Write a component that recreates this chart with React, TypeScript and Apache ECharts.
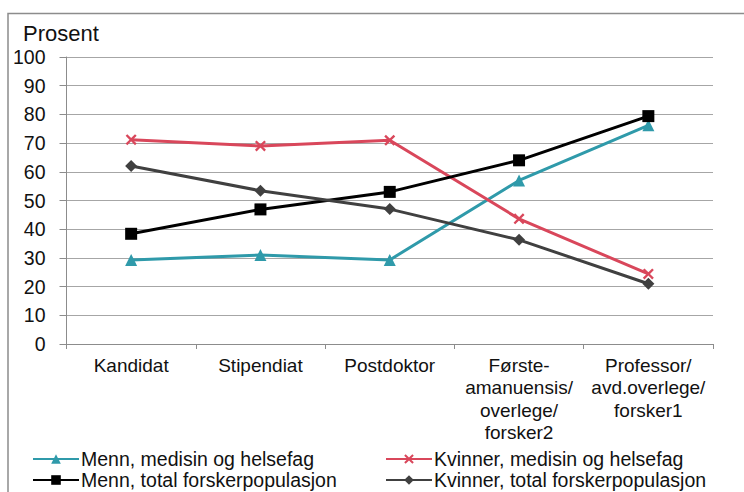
import React, { useEffect, useRef } from "react";
import * as echarts from "echarts";

const categories = [
  "Kandidat",
  "Stipendiat",
  "Postdoktor",
  "Første-\namanuensis/\noverlege/\nforsker2",
  "Professor/\navd.overlege/\nforsker1",
];
const mennMedisin = [29.3, 31, 29.3, 57, 76.2];
const kvinnerMedisin = [71.2, 69, 71, 43.6, 24.4];
const mennTotal = [38.4, 46.9, 53, 64, 79.4];
const kvinnerTotal = [62, 53.4, 47, 36.3, 21];
const yTicks = { min: 0, max: 100, interval: 10 };

const FONT = "Liberation Sans, Arial, sans-serif";
const xSymbol =
  "path://M0,1.5L1.5,0L5,3.5L8.5,0L10,1.5L6.5,5L10,8.5L8.5,10L5,6.5L1.5,10L0,8.5L3.5,5Z";

export default function App() {
  const ref = useRef<HTMLDivElement>(null);
  useEffect(() => {
    const chart = echarts.init(ref.current!, null, { renderer: "svg" });
    const mk = (name: string, data: number[], color: string, symbol: string, size: number) => ({
      name,
      type: "line",
      data,
      symbol,
      symbolSize: size,
      lineStyle: { color, width: 3 },
      itemStyle: { color },
      z: 3,
    });
    const legendBase = {
      itemWidth: 46,
      itemHeight: 12,
      textStyle: { fontFamily: FONT, fontSize: 19.5, color: "#111", lineHeight: 20, padding: [0, 0, 0, -3] },
      padding: 0,
      itemGap: 0,
    };
    chart.setOption({
      animation: false,
      backgroundColor: "#fff",
      grid: { left: 66.5, right: 31, top: 57, bottom: 148 },
      graphic: [
        {
          type: "polyline",
          shape: { points: [[8, 492], [8, 13.5], [744, 13.5]] },
          style: { stroke: "#8c8c8c", lineWidth: 1.5, fill: null },
        },
        {
          type: "text",
          x: 23,
          y: 33,
          style: {
            text: "Prosent",
            fontFamily: FONT,
            fontSize: 22,
            fill: "#111",
            verticalAlign: "middle",
          },
        },
      ],
      legend: [
        { ...legendBase, data: ["Menn, medisin og helsefag"], left: 32, top: 449 },
        { ...legendBase, data: ["Kvinner, medisin og helsefag"], left: 385, top: 449 },
        { ...legendBase, data: ["Menn, total forskerpopulasjon"], left: 32, top: 470 },
        { ...legendBase, data: ["Kvinner, total forskerpopulasjon"], left: 385, top: 470 },
      ],
      xAxis: {
        type: "category",
        data: categories,
        boundaryGap: true,
        axisLine: { lineStyle: { color: "#8c8c8c", width: 1 } },
        axisTick: { show: true, length: 5, lineStyle: { color: "#8c8c8c" } },
        axisLabel: {
          fontFamily: FONT,
          fontSize: 19,
          color: "#111",
          lineHeight: 22.5,
          margin: 10,
          interval: 0,
        },
      },
      yAxis: {
        type: "value",
        min: yTicks.min,
        max: yTicks.max,
        interval: yTicks.interval,
        axisLine: { show: true, lineStyle: { color: "#8c8c8c", width: 1 } },
        axisTick: { show: true, length: 7, lineStyle: { color: "#8c8c8c" } },
        splitLine: { lineStyle: { color: "#a6a6a6", width: 1 } },
        axisLabel: { fontFamily: FONT, fontSize: 19.5, color: "#111", margin: 21 },
      },
      series: [
        mk("Menn, medisin og helsefag", mennMedisin, "#2f9aaa", "triangle", 12),
        mk("Kvinner, medisin og helsefag", kvinnerMedisin, "#d9475b", xSymbol, 11),
        mk("Menn, total forskerpopulasjon", mennTotal, "#000000", "rect", 12),
        mk("Kvinner, total forskerpopulasjon", kvinnerTotal, "#404040", "diamond", 12),
      ],
    });
    return () => chart.dispose();
  }, []);
  return <div ref={ref} style={{ width: 744, height: 492, position: "absolute", left: 0, top: 0 }} />;
}
